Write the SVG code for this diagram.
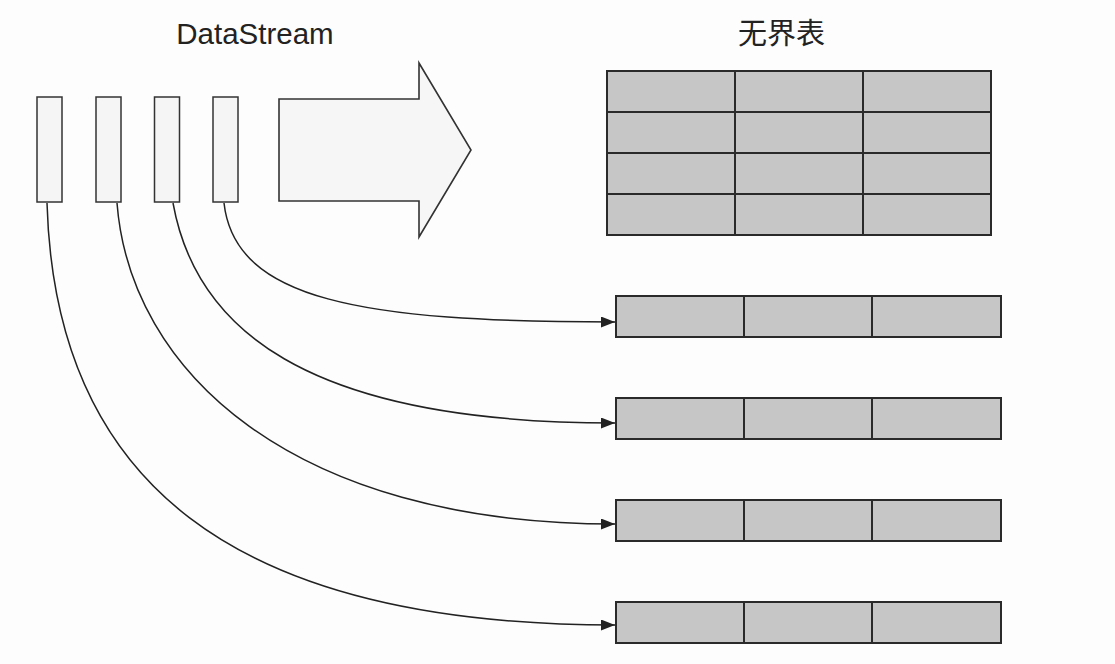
<svg xmlns="http://www.w3.org/2000/svg" width="1115" height="664" viewBox="0 0 1115 664">
  <defs>
    <style>
      .title { font-family: "Liberation Sans", Arial, sans-serif; font-size: 29.5px; fill: #222; }
      .cjk { font-family: "Noto Sans CJK SC", "Noto Sans", sans-serif; font-size: 29px; fill: #222; }
      .bar { fill: #f5f5f5; stroke: #333; stroke-width: 1.5; }
      .big { fill: #f6f6f6; stroke: #333; stroke-width: 1.6; }
      .cell { fill: #c6c6c6; stroke: #2a2a2a; stroke-width: 2; }
      .grid { stroke: #2a2a2a; stroke-width: 2; fill: none; }
      .conn { fill: none; stroke: #222; stroke-width: 1.5; }
    </style>
    <marker id="arr" viewBox="0 0 14 11" refX="14" refY="5.5" markerWidth="14" markerHeight="11" markerUnits="userSpaceOnUse" orient="auto">
      <path d="M0,0 L14,5.5 L0,11 Z" fill="#222"/>
    </marker>
  </defs>
  <rect width="1115" height="664" fill="#fdfdfd"/>

  <text class="title" x="255" y="44" text-anchor="middle">DataStream</text>
  <text class="cjk" x="781.5" y="44" text-anchor="middle">无界表</text>

  <g id="stream-bar-1"><rect class="bar" x="37" y="97" width="25" height="105"/></g>
  <g id="stream-bar-2"><rect class="bar" x="96" y="97" width="25" height="105"/></g>
  <g id="stream-bar-3"><rect class="bar" x="154.5" y="97" width="25" height="105"/></g>
  <g id="stream-bar-4"><rect class="bar" x="213" y="97" width="25" height="105"/></g>

  <g id="big-arrow">
    <polygon class="big" points="279,99 419,99 419,63 471,150 419,237 419,201 279,201"/>
  </g>

  <g id="unbounded-table">
    <rect class="cell" x="607" y="71" width="384" height="164"/>
    <path class="grid" d="M735,71 V235 M863,71 V235 M607,112 H991 M607,153 H991 M607,194 H991"/>
  </g>

  <g id="row-1">
    <rect class="cell" x="616" y="296" width="385" height="41"/>
    <path class="grid" d="M744,296 V337 M872,296 V337"/>
  </g>
  <g id="row-2">
    <rect class="cell" x="616" y="398" width="385" height="41"/>
    <path class="grid" d="M744,398 V439 M872,398 V439"/>
  </g>
  <g id="row-3">
    <rect class="cell" x="616" y="500" width="385" height="41"/>
    <path class="grid" d="M744,500 V541 M872,500 V541"/>
  </g>
  <g id="row-4">
    <rect class="cell" x="616" y="602" width="385" height="41"/>
    <path class="grid" d="M744,602 V643 M872,602 V643"/>
  </g>

  <g id="connectors">
    <path class="conn" marker-end="url(#arr)" d="M224,203 C235,300 360,322 615,322"/>
    <path class="conn" marker-end="url(#arr)" d="M173,203 C195,325 300,423 615,423"/>
    <path class="conn" marker-end="url(#arr)" d="M117,203 C130,370 290,524 615,524"/>
    <path class="conn" marker-end="url(#arr)" d="M47,203 C55,480 230,625 615,625"/>
  </g>
</svg>
